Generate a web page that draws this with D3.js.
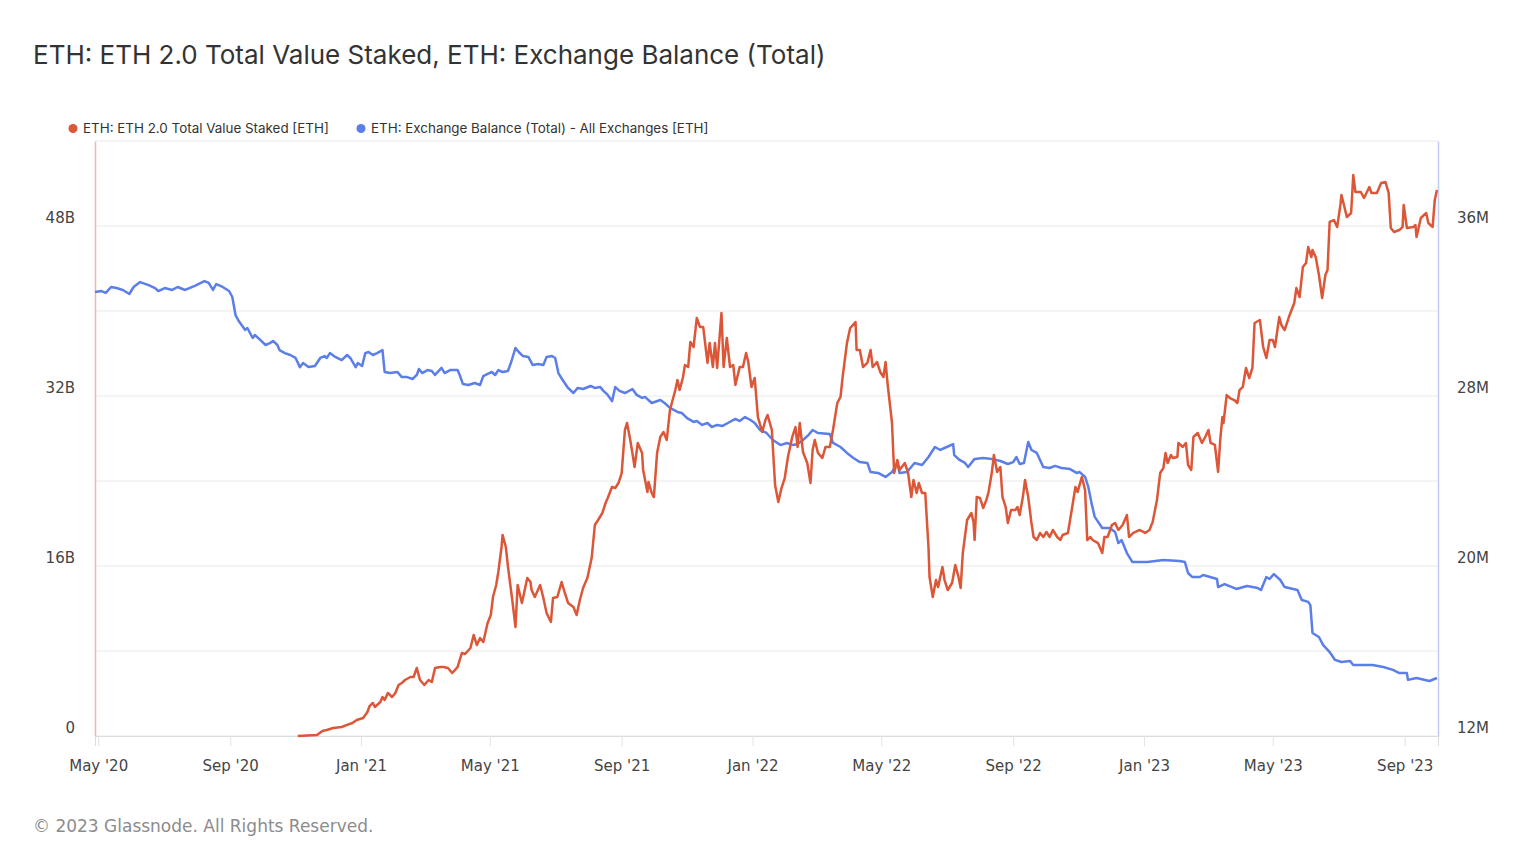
<!DOCTYPE html>
<html><head><meta charset="utf-8">
<script src="https://cdn.jsdelivr.net/npm/d3@7/dist/d3.min.js"></script>
<style>body{margin:0;background:#fff;}svg{display:block;}</style>
</head><body><svg id="chart" width="1536" height="864"></svg>
<script>
const chartTitle = "ETH: ETH 2.0 Total Value Staked, ETH: Exchange Balance (Total)";
const seriesNames = ["ETH: ETH 2.0 Total Value Staked [ETH]", "ETH: Exchange Balance (Total) - All Exchanges [ETH]"];
const seriesColors = ["#dc5638", "#5b7ee9"];
const copyright = "© 2023 Glassnode. All Rights Reserved.";
const xDomain = ["2020-04-28", "2023-10-02"];
const leftDomain = [0, 56];      // billions
const rightDomain = [12, 40];    // millions
const leftTickValues = [0, 16, 32, 48];
const rightTickValues = [12, 20, 28, 36];
const gridValues = [0, 8, 16, 24, 32, 40, 48, 56];

// ETH 2.0 Total Value Staked (billions, left axis)
const stakedSeries = [
["2020-11-03",0],["2020-11-21",0.09],["2020-11-26",0.47],["2020-11-30",0.56],["2020-12-06",0.75],["2020-12-14",0.85],
["2020-12-19",1.04],["2020-12-24",1.22],["2020-12-28",1.51],["2021-01-03",1.69],["2021-01-07",2.26],["2021-01-09",2.82],
["2021-01-12",3.11],["2021-01-14",2.73],["2021-01-19",3.20],["2021-01-21",3.67],["2021-01-23",3.39],["2021-01-26",4.05],
["2021-01-30",3.67],["2021-02-02",4.05],["2021-02-05",4.80],["2021-02-08",4.99],["2021-02-11",5.27],["2021-02-16",5.55],
["2021-02-19",5.55],["2021-02-22",6.40],["2021-02-25",5.27],["2021-03-01",4.80],["2021-03-05",5.27],["2021-03-08",5.08],
["2021-03-11",6.40],["2021-03-16",6.49],["2021-03-19",6.49],["2021-03-23",6.40],["2021-03-27",5.93],["2021-04-01",6.49],
["2021-04-05",7.81],["2021-04-08",7.72],["2021-04-13",8.28],["2021-04-16",9.51],["2021-04-19",8.56],["2021-04-22",9.22],
["2021-04-25",8.85],["2021-04-29",10.64],["2021-05-02",11.39],["2021-05-04",13.08],["2021-05-07",14.21],["2021-05-09",15.44],
["2021-05-12",17.79],["2021-05-13",18.92],["2021-05-16",17.79],["2021-05-18",15.91],["2021-05-22",12.80],["2021-05-25",10.26],
["2021-05-27",14.21],["2021-05-31",12.52],["2021-06-05",14.87],["2021-06-08",14.49],["2021-06-09",13.74],["2021-06-12",13.08],
["2021-06-17",14.21],["2021-06-20",12.99],["2021-06-23",11.58],["2021-06-27",10.73],["2021-06-29",12.99],["2021-07-03",13.08],
["2021-07-07",14.49],["2021-07-10",13.46],["2021-07-13",12.52],["2021-07-18",12.14],["2021-07-21",11.39],["2021-07-24",12.80],
["2021-07-27",13.93],["2021-07-31",14.87],["2021-08-04",16.75],["2021-08-07",19.86],["2021-08-10",20.33],["2021-08-14",20.99],
["2021-08-17",21.93],["2021-08-19",22.40],["2021-08-23",23.44],["2021-08-26",23.34],["2021-08-29",23.81],["2021-09-01",24.75],
["2021-09-04",28.80],["2021-09-06",29.46],["2021-09-09",27.86],["2021-09-12",25.98],["2021-09-13",25.32],["2021-09-16",27.58],
["2021-09-20",26.64],["2021-09-21",25.04],["2021-09-25",22.96],["2021-09-26",23.91],["2021-09-29",22.87],["2021-10-01",22.49],
["2021-10-04",26.64],["2021-10-07",28.14],["2021-10-10",28.61],["2021-10-13",27.86],["2021-10-16",30.68],["2021-10-21",32.56],
["2021-10-23",33.51],["2021-10-25",32.56],["2021-10-28",33.69],["2021-10-30",34.92],["2021-11-02",34.73],["2021-11-04",37.08],
["2021-11-07",36.61],["2021-11-10",39.34],["2021-11-13",38.49],["2021-11-16",38.49],["2021-11-20",35.11],["2021-11-22",36.99],
["2021-11-25",34.73],["2021-11-27",36.99],["2021-11-29",34.64],["2021-12-03",39.81],["2021-12-05",34.73],["2021-12-08",37.46],
["2021-12-11",34.73],["2021-12-14",34.92],["2021-12-16",33.04],["2021-12-20",34.73],["2021-12-23",34.73],["2021-12-26",36.05],
["2021-12-28",35.20],["2021-12-31",32.85],["2022-01-03",33.69],["2022-01-06",30.02],["2022-01-10",28.61],["2022-01-13",29.74],
["2022-01-15",30.21],["2022-01-19",28.80],["2022-01-22",23.62],["2022-01-25",22.02],["2022-01-28",23.34],["2022-01-31",24.28],
["2022-02-03",26.26],["2022-02-07",28.14],["2022-02-10",29.08],["2022-02-12",27.20],["2022-02-14",29.46],["2022-02-17",26.73],
["2022-02-21",25.69],["2022-02-24",23.81],["2022-02-26",26.92],["2022-02-28",27.86],["2022-03-03",26.64],["2022-03-07",26.16],
["2022-03-10",27.20],["2022-03-14",27.20],["2022-03-17",28.80],["2022-03-21",31.34],["2022-03-24",31.91],["2022-03-26",33.79],
["2022-03-30",36.99],["2022-04-02",38.40],["2022-04-07",38.96],["2022-04-08",36.33],["2022-04-11",36.33],["2022-04-14",34.73],
["2022-04-18",35.11],["2022-04-21",36.33],["2022-04-23",34.73],["2022-04-27",35.20],["2022-04-30",34.26],["2022-05-03",33.79],
["2022-05-05",35.20],["2022-05-07",33.04],["2022-05-11",29.46],["2022-05-13",24.75],["2022-05-16",25.98],["2022-05-18",25.04],
["2022-05-23",25.69],["2022-05-26",24.75],["2022-05-29",22.49],["2022-05-31",24.09],["2022-06-03",22.87],["2022-06-05",23.81],
["2022-06-08",22.87],["2022-06-11",22.87],["2022-06-14",17.79],["2022-06-15",14.96],["2022-06-18",13.08],["2022-06-21",14.68],
["2022-06-23",14.02],["2022-06-27",15.91],["2022-06-29",14.68],["2022-07-02",13.74],["2022-07-06",14.40],["2022-07-09",16.09],
["2022-07-12",14.96],["2022-07-14",13.93],["2022-07-16",17.22],["2022-07-20",20.33],["2022-07-24",20.99],["2022-07-26",20.14],
["2022-07-27",18.45],["2022-07-29",22.49],["2022-08-01",22.40],["2022-08-04",21.46],["2022-08-07",22.21],["2022-08-09",22.96],
["2022-08-12",24.75],["2022-08-14",26.45],["2022-08-17",24.85],["2022-08-20",25.32],["2022-08-22",22.49],["2022-08-25",21.55],
["2022-08-27",20.05],["2022-08-30",21.27],["2022-09-03",21.27],["2022-09-05",21.55],["2022-09-07",20.80],["2022-09-10",22.49],
["2022-09-12",24.09],["2022-09-15",22.49],["2022-09-18",20.05],["2022-09-20",18.73],["2022-09-23",18.45],["2022-09-26",19.11],
["2022-09-29",18.73],["2022-10-02",19.20],["2022-10-05",18.73],["2022-10-08",19.39],["2022-10-12",18.73],["2022-10-15",18.45],
["2022-10-17",18.92],["2022-10-22",19.11],["2022-10-26",21.55],["2022-10-29",23.44],["2022-10-31",22.96],["2022-11-04",24.38],
["2022-11-07",23.15],["2022-11-09",18.45],["2022-11-12",18.73],["2022-11-14",18.45],["2022-11-19",18.16],["2022-11-23",17.22],
["2022-11-25",18.73],["2022-11-28",18.73],["2022-12-02",19.86],["2022-12-05",20.05],["2022-12-08",19.39],["2022-12-12",19.86],
["2022-12-16",20.80],["2022-12-18",18.73],["2022-12-22",19.11],["2022-12-28",19.39],["2023-01-02",19.11],["2023-01-06",19.39],
["2023-01-09",20.14],["2023-01-13",22.21],["2023-01-16",24.75],["2023-01-19",25.22],["2023-01-21",26.64],["2023-01-23",25.69],
["2023-01-26",26.45],["2023-01-28",26.16],["2023-02-01",26.26],["2023-02-02",27.58],["2023-02-06",27.20],["2023-02-09",27.58],
["2023-02-11",25.51],["2023-02-14",25.04],["2023-02-16",28.14],["2023-02-20",28.52],["2023-02-24",27.58],["2023-02-27",28.14],
["2023-03-02",28.80],["2023-03-04",27.58],["2023-03-08",27.39],["2023-03-11",24.85],["2023-03-13",27.86],["2023-03-15",30.02],
["2023-03-16",29.46],["2023-03-19",32.09],["2023-03-22",31.81],["2023-03-26",31.62],["2023-03-29",31.34],["2023-03-31",32.56],
["2023-04-03",32.85],["2023-04-06",34.64],["2023-04-09",33.69],["2023-04-12",34.64],["2023-04-14",38.87],["2023-04-19",39.15],
["2023-04-22",36.61],["2023-04-25",35.58],["2023-04-28",37.27],["2023-05-01",37.27],["2023-05-03",36.61],["2023-05-07",39.43],
["2023-05-09",38.68],["2023-05-12",38.21],["2023-05-16",39.43],["2023-05-21",40.75],["2023-05-23",42.16],["2023-05-26",41.32],
["2023-05-29",44.14],["2023-06-01",44.52],["2023-06-03",46.02],["2023-06-06",45.08],["2023-06-07",45.74],["2023-06-10",45.08],
["2023-06-13",43.39],["2023-06-16",41.22],["2023-06-19",43.39],["2023-06-21",43.86],["2023-06-23",48.38],["2023-06-27",48.56],
["2023-06-30",47.91],["2023-07-03",49.98],["2023-07-04",50.92],["2023-07-07",49.69],["2023-07-09",48.85],["2023-07-13",49.22],
["2023-07-15",52.80],["2023-07-17",51.20],["2023-07-22",51.20],["2023-07-25",50.64],["2023-07-30",51.67],["2023-08-01",51.11],
["2023-08-06",51.11],["2023-08-10",52.05],["2023-08-14",52.14],["2023-08-17",51.11],["2023-08-19",47.81],["2023-08-22",47.44],
["2023-08-27",47.62],["2023-08-30",47.91],["2023-08-31",49.98],["2023-09-03",47.81],["2023-09-09",47.91],["2023-09-11",48.09],
["2023-09-12",46.96],["2023-09-16",48.75],["2023-09-21",49.22],["2023-09-23",48.28],["2023-09-27",47.91],["2023-09-29",50.45],
["2023-10-01",51.39]
];

// Exchange Balance, all exchanges (millions, right axis)
const balanceSeries = [
["2020-04-28",32.89],["2020-05-04",32.94],["2020-05-08",32.85],["2020-05-13",33.13],["2020-05-18",33.08],["2020-05-24",32.99],
["2020-05-30",32.80],["2020-06-03",33.13],["2020-06-09",33.36],["2020-06-17",33.22],["2020-06-23",33.08],["2020-06-26",32.94],
["2020-07-02",33.08],["2020-07-09",32.99],["2020-07-14",33.13],["2020-07-21",32.99],["2020-07-30",33.18],["2020-08-08",33.41],
["2020-08-12",33.32],["2020-08-16",32.99],["2020-08-19",33.27],["2020-08-25",33.13],["2020-08-31",32.94],["2020-09-03",32.66],
["2020-09-06",31.81],["2020-09-09",31.53],["2020-09-15",31.11],["2020-09-17",31.20],["2020-09-22",30.73],["2020-09-24",30.87],
["2020-09-29",30.64],["2020-10-04",30.40],["2020-10-08",30.49],["2020-10-11",30.59],["2020-10-15",30.40],["2020-10-17",30.16],
["2020-10-22",30.02],["2020-10-27",29.93],["2020-11-01",29.79],["2020-11-05",29.36],["2020-11-08",29.55],["2020-11-13",29.36],
["2020-11-19",29.41],["2020-11-24",29.79],["2020-11-28",29.88],["2020-11-30",29.79],["2020-12-03",30.02],["2020-12-08",29.84],
["2020-12-14",29.69],["2020-12-19",29.93],["2020-12-22",29.79],["2020-12-27",29.36],["2020-12-29",29.55],["2021-01-02",29.41],
["2021-01-05",30.02],["2021-01-08",30.07],["2021-01-12",29.93],["2021-01-16",30.02],["2021-01-21",30.16],["2021-01-23",29.13],
["2021-01-28",29.08],["2021-02-04",29.13],["2021-02-08",28.89],["2021-02-13",28.89],["2021-02-18",28.80],["2021-02-22",28.99],
["2021-02-24",29.27],["2021-02-27",29.08],["2021-03-04",29.22],["2021-03-08",29.18],["2021-03-11",28.99],["2021-03-17",29.32],
["2021-03-20",29.08],["2021-03-25",29.22],["2021-04-01",29.22],["2021-04-03",28.99],["2021-04-06",28.56],["2021-04-11",28.52],
["2021-04-17",28.61],["2021-04-22",28.52],["2021-04-25",28.94],["2021-04-29",29.04],["2021-05-03",29.13],["2021-05-06",28.99],
["2021-05-09",29.22],["2021-05-13",29.13],["2021-05-18",29.18],["2021-05-21",29.60],["2021-05-25",30.26],["2021-05-28",30.07],
["2021-06-01",29.88],["2021-06-06",29.84],["2021-06-10",29.46],["2021-06-15",29.51],["2021-06-20",29.46],["2021-06-23",29.84],
["2021-06-28",29.88],["2021-07-01",29.79],["2021-07-04",29.08],["2021-07-08",28.75],["2021-07-13",28.38],["2021-07-18",28.14],
["2021-07-22",28.38],["2021-07-27",28.33],["2021-08-03",28.47],["2021-08-07",28.38],["2021-08-12",28.42],["2021-08-15",28.24],
["2021-08-19",28.05],["2021-08-23",27.76],["2021-08-26",28.42],["2021-08-30",28.24],["2021-09-04",28.14],["2021-09-11",28.33],
["2021-09-15",28.05],["2021-09-20",27.91],["2021-09-23",27.95],["2021-09-29",27.67],["2021-10-07",27.81],["2021-10-11",27.67],
["2021-10-16",27.44],["2021-10-23",27.25],["2021-10-27",27.20],["2021-11-01",26.96],["2021-11-07",26.78],["2021-11-10",26.82],
["2021-11-15",26.64],["2021-11-20",26.73],["2021-11-24",26.54],["2021-11-29",26.64],["2021-12-04",26.59],["2021-12-09",26.73],
["2021-12-16",26.92],["2021-12-20",26.82],["2021-12-25",27.01],["2021-12-30",26.87],["2022-01-03",26.73],["2022-01-08",26.40],
["2022-01-14",26.26],["2022-01-20",25.93],["2022-01-27",25.69],["2022-02-02",25.79],["2022-02-08",25.69],["2022-02-12",25.74],
["2022-02-17",25.93],["2022-02-22",26.16],["2022-02-26",26.40],["2022-03-03",26.26],["2022-03-14",26.21],["2022-03-17",25.79],
["2022-03-24",25.60],["2022-03-30",25.32],["2022-04-05",25.08],["2022-04-11",24.89],["2022-04-18",24.85],["2022-04-21",24.42],
["2022-04-28",24.38],["2022-05-05",24.19],["2022-05-11",24.42],["2022-05-16",24.85],["2022-05-18",24.38],["2022-05-25",24.42],
["2022-06-01",24.85],["2022-06-08",24.75],["2022-06-14",25.13],["2022-06-20",25.60],["2022-06-25",25.46],["2022-07-01",25.60],
["2022-07-07",25.74],["2022-07-08",25.22],["2022-07-13",24.99],["2022-07-18",24.85],["2022-07-21",24.66],["2022-07-27",25.04],
["2022-08-04",25.08],["2022-08-12",25.04],["2022-08-20",24.94],["2022-08-27",24.80],["2022-09-01",24.89],["2022-09-04",25.13],
["2022-09-07",24.80],["2022-09-11",24.85],["2022-09-15",25.84],["2022-09-18",25.46],["2022-09-23",25.32],["2022-09-29",24.66],
["2022-10-05",24.61],["2022-10-10",24.71],["2022-10-16",24.61],["2022-10-24",24.56],["2022-10-30",24.38],["2022-11-02",24.42],
["2022-11-07",24.19],["2022-11-10",23.72],["2022-11-13",22.96],["2022-11-16",22.31],["2022-11-23",21.79],["2022-11-30",21.79],
["2022-12-05",21.60],["2022-12-08",21.08],["2022-12-11",21.22],["2022-12-16",20.61],["2022-12-21",20.19],["2023-01-04",20.19],
["2023-01-19",20.28],["2023-02-03",20.24],["2023-02-08",20.19],["2023-02-11",19.67],["2023-02-15",19.48],["2023-02-22",19.48],
["2023-02-25",19.58],["2023-03-10",19.39],["2023-03-11",19.01],["2023-03-17",19.15],["2023-03-28",18.92],["2023-04-07",19.06],
["2023-04-17",18.96],["2023-04-20",18.87],["2023-04-25",19.48],["2023-04-28",19.39],["2023-05-02",19.62],["2023-05-08",19.34],
["2023-05-12",19.01],["2023-05-24",18.87],["2023-05-28",18.40],["2023-06-03",18.31],["2023-06-05",18.16],["2023-06-07",16.85],
["2023-06-13",16.66],["2023-06-17",16.28],["2023-06-23",15.95],["2023-06-28",15.58],["2023-07-04",15.48],["2023-07-12",15.53],
["2023-07-15",15.34],["2023-08-02",15.34],["2023-08-12",15.25],["2023-08-21",15.11],["2023-08-27",14.96],["2023-09-03",14.96],
["2023-09-04",14.64],["2023-09-12",14.73],["2023-09-24",14.59],["2023-10-01",14.73]
];

const parse = d3.utcParse("%Y-%m-%d");
const svg = d3.select("#chart");
const M = {left: 95, right: 1438, top: 141, bottom: 736};

const x = d3.scaleUtc().domain(xDomain.map(parse)).range([M.left, M.right]);
const yL = d3.scaleLinear().domain(leftDomain).range([M.bottom, M.top]);
const yR = d3.scaleLinear().domain(rightDomain).range([M.bottom, M.top]);

// Title
svg.append("text").attr("x", 33).attr("y", 64)
  .attr("font-family", "Inter, Roboto, sans-serif").attr("font-size", 26)
  .attr("fill", "#333").text(chartTitle);

// Legend
const legendX = [73, 361];
seriesNames.forEach((n, i) => {
  svg.append("circle").attr("cx", legendX[i]).attr("cy", 128.5).attr("r", 4.5).attr("fill", seriesColors[i]);
  svg.append("text").attr("x", legendX[i] + 10).attr("y", 132.5)
    .attr("font-family", "Inter, Roboto, sans-serif").attr("font-size", 13.4)
    .attr("fill", "#333").text(n);
});

// Grid
svg.append("g").selectAll("line").data(gridValues).join("line")
  .attr("x1", M.left).attr("x2", M.right)
  .attr("y1", d => yL(d)).attr("y2", d => yL(d))
  .attr("stroke", "#e9e9e9").attr("stroke-width", 1);

// Bottom axis
const xAxis = d3.axisBottom(x).ticks(d3.utcMonth.every(4)).tickFormat(d3.utcFormat("%b '%y")).tickSize(10).tickPadding(14);
const gx = svg.append("g").attr("transform", `translate(0,${M.bottom})`).call(xAxis);
gx.select(".domain").attr("stroke", "#dcdcdc");
gx.selectAll(".tick line").attr("stroke", "#e3e3e3");
gx.selectAll(".tick text").attr("font-family", "'DejaVu Sans', sans-serif").attr("font-size", 15).attr("fill", "#444");

// Left axis
const gl = svg.append("g").attr("transform", `translate(${M.left},0)`)
  .call(d3.axisLeft(yL).tickValues(leftTickValues).tickSize(0).tickPadding(20).tickFormat(d => d === 0 ? "0" : d + "B"));
gl.select(".domain").attr("stroke", "#f3b7aa").attr("stroke-width", 1.5);
gl.selectAll(".tick text").attr("font-family", "'DejaVu Sans', sans-serif").attr("font-size", 15).attr("fill", "#444").attr("dy", "-0.25em");

// Right axis
const gr = svg.append("g").attr("transform", `translate(${M.right},0)`)
  .call(d3.axisRight(yR).tickValues(rightTickValues).tickSize(0).tickPadding(19).tickFormat(d => d + "M"));
gr.select(".domain").attr("stroke", "#c3ccf7").attr("stroke-width", 1.5);
gr.selectAll(".tick text").attr("font-family", "'DejaVu Sans', sans-serif").attr("font-size", 15).attr("fill", "#444").attr("dy", "-0.25em");

// Lines
const lineL = d3.line().x(d => x(parse(d[0]))).y(d => yL(d[1]));
const lineR = d3.line().x(d => x(parse(d[0]))).y(d => yR(d[1]));
svg.append("path").datum(balanceSeries).attr("d", lineR).attr("fill", "none")
  .attr("stroke", seriesColors[1]).attr("stroke-width", 2.5).attr("stroke-linejoin", "round");
svg.append("path").datum(stakedSeries).attr("d", lineL).attr("fill", "none")
  .attr("stroke", seriesColors[0]).attr("stroke-width", 2.5).attr("stroke-linejoin", "round");

// Copyright
svg.append("text").attr("x", 33).attr("y", 832)
  .attr("font-family", "'DejaVu Sans', sans-serif").attr("font-size", 17).attr("fill", "#8c8c8c").text(copyright);
</script></body></html>
